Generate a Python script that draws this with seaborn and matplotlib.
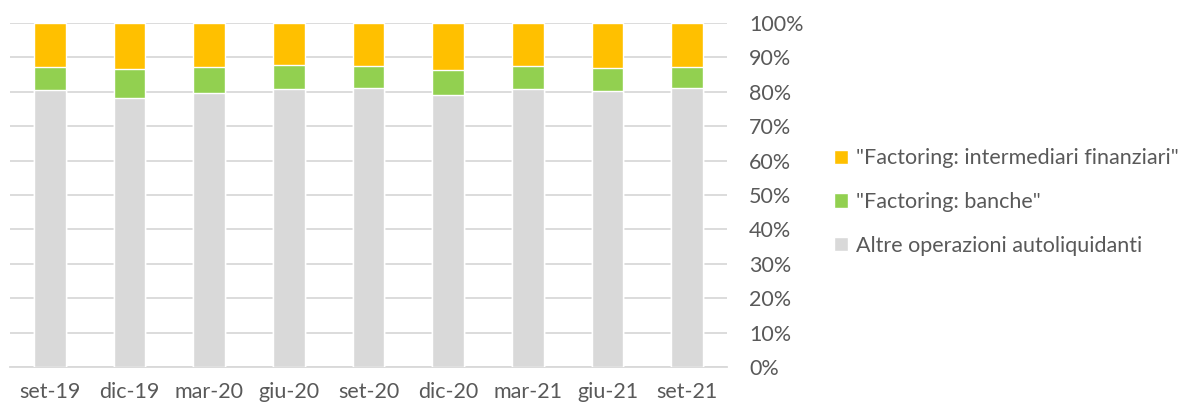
import pandas as pd
import matplotlib.pyplot as plt
import seaborn as sns
from matplotlib.patches import Patch
from matplotlib.ticker import FixedLocator, PercentFormatter

periods = ['set-19', 'dic-19', 'mar-20', 'giu-20', 'set-20', 'dic-20', 'mar-21', 'giu-21', 'set-21']
altre = [80.4, 78.2, 79.6, 80.8, 81.0, 79.1, 80.7, 80.1, 81.2]
banche = [6.9, 8.3, 7.5, 6.9, 6.6, 7.3, 6.7, 6.9, 6.1]
intermediari = [12.7, 13.5, 12.9, 12.3, 12.4, 13.6, 12.6, 13.0, 12.7]

lab_alt = 'Altre operazioni autoliquidanti'
lab_ban = '"Factoring: banche"'
lab_int = '"Factoring: intermediari finanziari"'
col_alt = '#D9D9D9'
col_ban = '#92D050'
col_int = '#FFC000'
txt = '#595959'

df = pd.DataFrame({'periodo': periods, 'altre': altre, 'banche': banche, 'intermediari': intermediari})
df['c1'] = df['altre']
df['c2'] = df['altre'] + df['banche']
df['c3'] = df['c2'] + df['intermediari']

sns.set_style('white')
plt.rcParams['font.family'] = ['Lato', 'DejaVu Sans']

fig = plt.figure(figsize=(11.93, 4.07), dpi=100)
ax = fig.add_axes([10 / 1193, 40 / 407, 717 / 1193, 344 / 407])

for col, c in [('c3', col_int), ('c2', col_ban), ('c1', col_alt)]:
    sns.barplot(data=df, x='periodo', y=col, color=c, width=0.4, saturation=1, ax=ax, zorder=3)

ax.set_xlim(-0.5, len(periods) - 0.5)
ax.set_ylim(0, 100)
ax.set_xlabel('')
ax.set_ylabel('')
ax.yaxis.tick_right()
ax.set_yticks(range(0, 101, 10))
ax.yaxis.set_major_formatter(PercentFormatter(decimals=0))
ax.grid(axis='y', color='#D9D9D9', linewidth=1.3, zorder=0)
ax.tick_params(axis='y', length=0, pad=16, labelsize=15.5, labelcolor=txt)
ax.tick_params(axis='x', which='major', length=0, pad=11, labelsize=15.5, labelcolor=txt)
ax.xaxis.set_minor_locator(FixedLocator([i - 0.5 for i in range(len(periods) + 1)]))
ax.tick_params(axis='x', which='minor', length=6, width=1.3, color='#D9D9D9')
for s in ['top', 'left', 'right']:
    ax.spines[s].set_visible(False)
ax.spines['bottom'].set_color('#D9D9D9')
ax.spines['bottom'].set_linewidth(1.3)

handles = [Patch(facecolor=col_int, label=lab_int),
           Patch(facecolor=col_ban, label=lab_ban),
           Patch(facecolor=col_alt, label=lab_alt)]
leg = fig.legend(handles=handles, loc='center left', bbox_to_anchor=(815 / 1193, 205 / 407),
                 frameon=False, fontsize=15.5, handlelength=0.65, handleheight=0.65,
                 handletextpad=0.35, labelspacing=1.1, labelcolor=txt)

fig.savefig('out.png', dpi=100)
